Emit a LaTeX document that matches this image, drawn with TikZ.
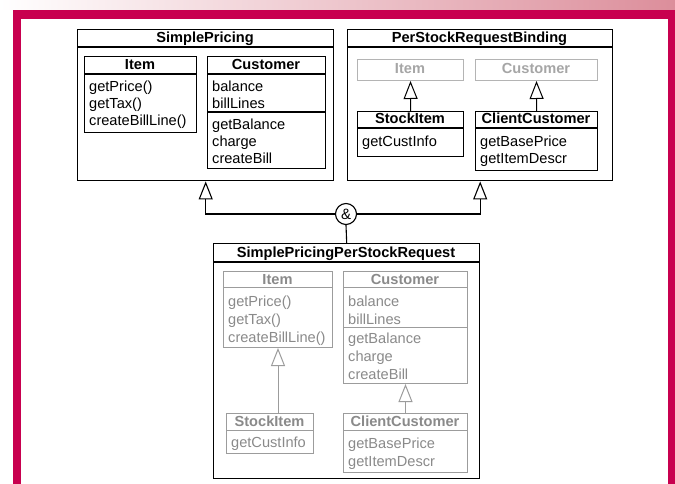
\documentclass[tikz,border=0pt]{standalone}
\usepackage{fontspec}
\setmainfont{Liberation Sans}
\usetikzlibrary{arrows.meta,calc}
\definecolor{mag}{HTML}{C8004F}
\definecolor{band}{HTML}{DC8E9B}
\definecolor{gtxt}{HTML}{8A8A8A}
\definecolor{gline}{HTML}{9C9C9C}
\definecolor{ltxt}{HTML}{A6A6A6}
\definecolor{lline}{HTML}{B4B4B4}
\newcommand\umlbox[6]{\node[#1, minimum width={(#5-#3)*1pt}, minimum height={(#6-#4)*1pt}] (#2) at (#3,#4) {};}
\begin{document}
\begin{tikzpicture}[x=1pt,y=-1pt,
  box/.style={draw, line width=1.4pt, inner sep=0pt, anchor=north west},
  gbox/.style={draw=gline, line width=1pt, inner sep=0pt, anchor=north west},
  lbox/.style={draw=lline, line width=1pt, inner sep=0pt, anchor=north west},
  sep/.style={line width=1.2pt},
  gsep/.style={draw=gline, line width=1pt},
  txt/.style={anchor=base west, inner sep=0pt, font=\fontsize{14.6}{17}\selectfont},
  ttl/.style={anchor=base, inner sep=0pt, font=\fontsize{14.6}{17}\selectfont\bfseries},
  tip/.style={-{Triangle[open, length=18pt, width=14pt, fill=white]}},
  inh/.style={tip, line width=1.1pt},
  ginh/.style={tip, line width=1pt, draw=gline},
  linh/.style={tip, line width=1pt, draw=black}
]
\useasboundingbox (0,0) rectangle (675,484);
% frame
\shade[left color=white, right color=band] (0,0) rectangle (675,10);
\fill[mag] (13,10) rectangle (675,484);
\fill[white] (21,19) rectangle (668,484);

% ---------- SimplePricing ----------
\umlbox{box}{sp}{77}{29}{333}{180}
\node[ttl] (spt) at (205,43) {SimplePricing};
\draw[sep] (77,47) -- (333,47);
\umlbox{box}{spi}{84}{56}{196}{132}
\node[ttl] (spit) at (140,70) {Item};
\draw[sep] (84,74) -- (196,74);
\foreach \t [count=\i from 0] in {getPrice(),getTax(),createBillLine()}
  \node[txt] (spi\i) at (89,92+17*\i) {\t};
\umlbox{box}{spc}{207}{56}{325}{168}
\node[ttl] (spct) at (266,70) {Customer};
\draw[sep] (207,74) -- (325,74);
\foreach \t [count=\i from 0] in {balance,billLines}
  \node[txt] (spca\i) at (212,92+17*\i) {\t};
\draw[sep] (207,112) -- (325,112);
\foreach \t [count=\i from 0] in {getBalance,charge,createBill}
  \node[txt] (spcm\i) at (212,130+17*\i) {\t};

% ---------- PerStockRequestBinding ----------
\umlbox{box}{psrb}{347}{29}{612}{180}
\node[ttl] (psrbt) at (479.5,43) {PerStockRequestBinding};
\draw[sep] (347,47) -- (612,47);
\umlbox{lbox}{pit}{357}{59}{463}{80}
\node[ttl, text=ltxt] (pitt) at (410,74) {Item};
\umlbox{lbox}{pcu}{475}{59}{597}{80}
\node[ttl, text=ltxt] (pcut) at (536,74) {Customer};
\umlbox{box}{psi}{357}{111}{463}{156}
\node[ttl] (psit) at (410,124) {StockItem};
\draw[sep] (357,128) -- (463,128);
\node[txt] (psi0) at (362,147) {getCustInfo};
\umlbox{box}{pcc}{475}{111}{597}{170}
\node[ttl] (pcct) at (536,124) {ClientCustomer};
\draw[sep] (475,128) -- (597,128);
\foreach \t [count=\i from 0] in {getBasePrice,getItemDescr}
  \node[txt] (pcc\i) at (480,147+17*\i) {\t};
\draw[linh] (psi.north) -- (pit.south);
\draw[linh] (pcc.north) -- (pcu.south);

% ---------- merge ----------
\node[circle, draw, line width=1.1pt, minimum size=21pt, inner sep=0pt, fill=white,
      font=\fontsize{15}{15}\selectfont] (amp) at (346,214) {\&};
\draw[inh] (amp.west) -| (sp.south);
\draw[inh] (amp.east) -| (psrb.south);

% ---------- SimplePricingPerStockRequest ----------
\umlbox{box}{spp}{213}{243}{479}{478}
\draw[line width=1.1pt] (amp.south) -- (spp.north);
\node[ttl] (sppt) at (346,257) {SimplePricingPerStockRequest};
\draw[sep] (213,262) -- (479,262);
\umlbox{gbox}{lit}{223}{271}{332}{347}
\node[ttl, text=gtxt] (litt) at (277.5,284) {Item};
\draw[gsep] (223,287) -- (332,287);
\foreach \t [count=\i from 0] in {getPrice(),getTax(),createBillLine()}
  \node[txt, text=gtxt] (lit\i) at (228,306+18*\i) {\t};
\umlbox{gbox}{lcu}{343}{271}{467}{383}
\node[ttl, text=gtxt] (lcut) at (405,284) {Customer};
\draw[gsep] (343,287) -- (467,287);
\foreach \t [count=\i from 0] in {balance,billLines}
  \node[txt, text=gtxt] (lcua\i) at (348,306+18*\i) {\t};
\draw[gsep] (343,327) -- (467,327);
\foreach \t [count=\i from 0] in {getBalance,charge,createBill}
  \node[txt, text=gtxt] (lcum\i) at (348,343+18*\i) {\t};
\umlbox{gbox}{lsi}{226}{413}{313}{453}
\node[ttl, text=gtxt] (lsit) at (269.5,426) {StockItem};
\draw[gsep] (226,430) -- (313,430);
\node[txt, text=gtxt] (lsi0) at (231,447) {getCustInfo};
\umlbox{gbox}{lcc}{343}{413}{467}{472}
\node[ttl, text=gtxt] (lcct) at (405,426) {ClientCustomer};
\draw[gsep] (343,430) -- (467,430);
\foreach \t [count=\i from 0] in {getBasePrice,getItemDescr}
  \node[txt, text=gtxt] (lcc\i) at (348,448+18*\i) {\t};
\draw[ginh] (lsi.north -| lit.south) -- (lit.south);
\draw[ginh] (lcc.north) -- (lcu.south);
\end{tikzpicture}
\end{document}
